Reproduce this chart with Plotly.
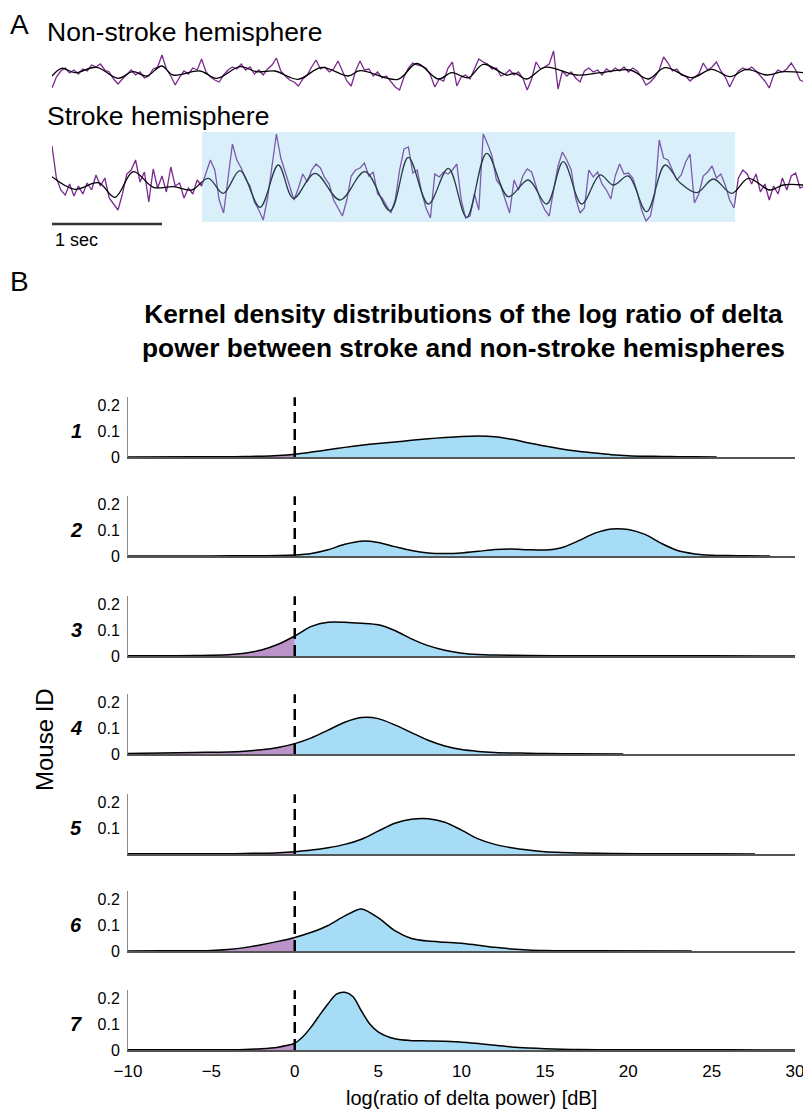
import plotly.graph_objects as go

# ---------------- DATA ----------------
# Panel A: EEG traces, sampled every 0.04 s (amplitude in arbitrary units)
DT = 0.04
NONSTROKE_RAW = [-15,-4,2,5,0,3,-1,4,2,8, 6,9,3,1,-6,-11,-6,-2,3,-2, 1,-5,-3,4,6,18,4,-3,-12,-4,
                 2,-1,5,3,14,1,-4,-7,-9,-2, 3,6,4,9,3,6,-1,3,-2,4, 8,15,2,-3,-7,-9,-13,-6,-2,6,
                 13,4,6,1,4,12,1,-8,-13,2, 12,3,4,-3,1,-5,-3,-9,-14,-17, -4,5,10,8,7,5,-2,-14,-6,-8,
                 5,11,-13,-4,-2,-6,4,14,11,9, 4,5,-3,-1,3,-2,1,-5,-17,-6, 11,4,6,9,22,-16,2,-3,1,-5,
                 -9,2,5,1,3,-2,4,1,5,2, 6,1,5,2,-4,-12,-9,-4,3,16, 10,2,4,-2,-3,-8,-4,-1,10,3,
                 6,11,2,-4,-14,-5,2,5,3,6, 2,-3,-8,-15,-2,3,1,4,10,3, -7,-9]
STROKE_RAW = [34,2,-10,-15,-4,-16,-6,-14,-3,-10, 5,-6,2,-18,-24,-30,-14,6,10,20,
              -2,8,-22,11,-8,4,-12,13,-6,-3, -18,-8,-14,0,-6,8,20,10,-20,-33,
              2,36,20,12,1,-6,-22,-30,-40,-18, 14,46,22,8,-6,-20,-8,6,-2,10,
              16,12,2,-4,-20,-28,-36,-20,4,10, 12,17,4,8,-14,-18,-26,-33,-20,10,
              31,33,7,10,-12,-28,-38,6,3,8, 6,10,16,-20,-38,-36,-14,-30,46,36,
              24,0,-6,-20,-33,0,-10,4,11,8, -6,-20,-30,-36,-10,14,28,20,10,-18,
              -33,-28,10,3,8,-4,-10,-19,4,16, 6,7,2,-12,-30,-41,-36,-14,40,22,
              20,10,0,5,18,26,-23,-14,4,8, 14,2,6,-5,-20,-28,2,10,6,-4,
              6,-12,-4,-20,-6,-14,2,-10,4,7, -8,-6]
# smoothed (delta-band) traces: time [s], value
NS_SMOOTH_T = [0.0,0.088,0.209,0.406,0.600,0.736,0.861,0.997,1.100,1.345,1.497,1.709,1.861,2.027,2.236,
               2.452,2.691,2.800,3.145,3.315,3.512,3.634,3.785,3.921,4.134,4.209,4.315,4.482,4.770,4.982,
               5.255,5.421,5.573,5.815,5.997,6.164,6.315,6.497,6.645,6.827]
NS_SMOOTH_V = [-3,4.7,0.3,5.7,-5.3,1.3,-3,7,-2,2,-5.3,6.3,1.3,2,-6.3,
               5.7,-3,2.3,-6.3,9.5,-6,0.3,-4.7,8.7,-2,-0.3,-6,5.7,-2,0.3,
               3,-6,5.3,-4.7,3.7,-3.7,3.7,-2,1.3,0.3]
ST_SMOOTH_T = [0.0,0.209,0.421,0.573,0.739,0.921,1.103,1.270,1.421,1.557,1.709,1.891,2.057,2.194,2.391,
               2.618,2.845,3.073,3.239,3.421,3.603,3.770,3.952,4.148,4.330,4.497,4.648,4.815,4.982,5.103,
               5.239,5.406,5.573,5.709,5.861,6.012,6.179,6.330,6.527,6.648,6.830]
ST_SMOOTH_V = [3.3,-9.3,-2.7,-17.3,8.3,-7.3,-6.7,-10,1.7,-13.3,9.3,-27.3,15,-18.3,6.7,
               -20,8.3,-30.7,22.7,-24,11.7,-37.3,26.7,-16.7,0,-24,18.3,-24,5,-5,
               4,-31.7,15,-2.7,-12.7,1,-13.3,1.7,-10,-5,-5]
HIGHLIGHT_T = [1.364, 6.21]      # shaded epoch [s]
HIGHLIGHT_V = [-42, 48]
SCALE_T = [0, 1]                 # 1 sec scale bar

# Panel B: kernel density estimates per mouse
ROW1_X = [-10,-6,-4,-3,-2,-1,0,1,2,3,4,5,6,7,8,9,10,11,12,13,14,15,16,17,18,19,20,21,22,23,24,25.3]
ROW1_Y = [0,0.0005,0.001,0.002,0.003,0.006,0.011,0.019,0.028,0.037,0.045,0.052,0.058,0.064,0.070,0.075,
          0.079,0.081,0.078,0.068,0.055,0.042,0.031,0.022,0.015,0.009,0.005,0.003,0.002,0.001,0.0005,0]
ROW2_X = [-10,-5,-2,-1,0,1,2,3,4,5,6,7,8,9,10,11,12,13,14,15,16,17,18,19,20,21,22,23,24,25,26,27,28.5]
ROW2_Y = [0,0.0003,0.001,0.002,0.004,0.010,0.024,0.045,0.057,0.052,0.036,0.021,0.012,0.010,0.012,0.018,
          0.025,0.027,0.024,0.023,0.032,0.058,0.088,0.104,0.102,0.083,0.048,0.020,0.008,0.003,0.0015,0.0005,0]
ROW3_X = [-10,-8,-6,-5,-4,-3,-2,-1,0,1,2,3,4,5,6,7,8,9,10,11,12,14,17,20,25,30]
ROW3_Y = [0.001,0.001,0.002,0.003,0.005,0.011,0.023,0.045,0.077,0.114,0.130,0.130,0.126,0.120,0.098,
          0.066,0.040,0.022,0.011,0.006,0.004,0.002,0.001,0.0008,0.0005,0.0003]
ROW4_X = [-10,-8,-6,-4,-3,-2,-1,0,1,2,3,4,5,6,7,8,9,10,11,12,13,14,15,17,19.7]
ROW4_Y = [0.002,0.004,0.006,0.008,0.011,0.016,0.025,0.040,0.062,0.092,0.122,0.140,0.136,0.112,0.082,
          0.053,0.031,0.017,0.010,0.006,0.004,0.003,0.002,0.001,0]
ROW5_X = [-10,-6,-4,-3,-2,-1,0,1,2,3,4,5,6,7,8,9,10,11,12,13,14,15,16,17,19,22,25,27.6]
ROW5_Y = [0.0005,0.001,0.001,0.002,0.003,0.005,0.009,0.015,0.024,0.037,0.057,0.088,0.118,0.134,0.136,
          0.122,0.092,0.058,0.037,0.024,0.015,0.009,0.006,0.004,0.002,0.001,0.0005,0]
ROW6_X = [-10,-8,-6,-5,-4,-3,-2,-1,0,1,2,3,4,5,6,7,8,9,10,11,12,13,14,15,16,18,23.8]
ROW6_Y = [0,0.0005,0.001,0.002,0.006,0.013,0.024,0.037,0.052,0.072,0.098,0.135,0.162,0.128,0.078,0.048,
          0.038,0.034,0.030,0.022,0.014,0.008,0.004,0.002,0.001,0.0005,0]
ROW7_X = [-10,-6,-4,-3,-2,-1,-0.5,0,0.5,1,1.5,2,2.5,3,3.5,4,4.5,5,6,7,8,9,10,11,12,13,14,15,16,17,19,22,26,30]
ROW7_Y = [0.0005,0.0005,0.001,0.002,0.005,0.011,0.017,0.026,0.052,0.090,0.135,0.178,0.215,0.222,0.205,
          0.150,0.100,0.070,0.043,0.036,0.035,0.034,0.030,0.025,0.018,0.012,0.008,0.005,0.003,0.002,
          0.001,0.0007,0.0005,0.0003]
MOUSE_IDS = ["1", "2", "3", "4", "5", "6", "7"]
X_TICKS = [-10, -5, 0, 5, 10, 15, 20, 25, 30]
Y_TICKS = [0, 0.1, 0.2]
Y_TICKTEXT = ["0", "0.1", "0.2"]

# ---------------- STYLE / LAYOUT ----------------
OFF = 8                       # page body margin of the HTML output
W, H = 811 - OFF, 1118 - OFF
NARROW = "Liberation Sans Narrow, Arial Narrow, Liberation Sans, Arial, sans-serif"
SANS = "Liberation Sans, Arial, Helvetica, sans-serif"
PURPLE = "rgb(122,42,142)"
FILL_NEG = "rgb(186,148,200)"
FILL_POS = "rgb(166,220,246)"


def px(p):
    return (p - OFF) / W


def py(p):
    return 1 - (p - OFF) / H


fig = go.Figure()

# ---- Panel A ----
ns_t = [i * DT for i in range(len(NONSTROKE_RAW))]
st_t = [i * DT for i in range(len(STROKE_RAW))]
fig.add_trace(go.Scatter(x=ns_t, y=NONSTROKE_RAW, mode="lines", line=dict(color=PURPLE, width=1.3),
                         xaxis="x", yaxis="y", hoverinfo="skip"))
fig.add_trace(go.Scatter(x=NS_SMOOTH_T, y=NS_SMOOTH_V, mode="lines",
                         line=dict(color="black", width=1.3, shape="spline", smoothing=1.0),
                         xaxis="x", yaxis="y", hoverinfo="skip"))
fig.add_trace(go.Scatter(x=st_t, y=STROKE_RAW, mode="lines", line=dict(color=PURPLE, width=1.3),
                         xaxis="x2", yaxis="y2", hoverinfo="skip"))
fig.add_trace(go.Scatter(x=ST_SMOOTH_T, y=ST_SMOOTH_V, mode="lines",
                         line=dict(color="black", width=1.3, shape="spline", smoothing=1.0),
                         xaxis="x2", yaxis="y2", hoverinfo="skip"))

layout = dict(
    template="none",
    width=W, height=H, autosize=False, margin=dict(l=0, r=0, t=0, b=0, pad=0),
    font=dict(family=SANS, color="black"),
    paper_bgcolor="white", plot_bgcolor="rgba(0,0,0,0)", showlegend=False,
    xaxis=dict(domain=[px(52), px(803)], range=[0, 6.827], visible=False, anchor="y", automargin=False),
    yaxis=dict(domain=[py(95), py(50)], range=[-22, 23], visible=False, anchor="x", automargin=False),
    xaxis2=dict(domain=[px(52), px(803)], range=[0, 6.827], visible=False, anchor="y2", automargin=False),
    yaxis2=dict(domain=[py(230), py(128)], range=[-50, 52], visible=False, anchor="x2", automargin=False),
)

shapes = [
    dict(type="rect", xref="x2", yref="y2", x0=HIGHLIGHT_T[0], x1=HIGHLIGHT_T[1],
         y0=HIGHLIGHT_V[0], y1=HIGHLIGHT_V[1], fillcolor="rgb(128,205,238)", opacity=0.3,
         line=dict(width=0), layer="above"),
    dict(type="line", xref="x2", yref="y2", x0=SCALE_T[0], x1=SCALE_T[1], y0=-44, y1=-44,
         line=dict(color="#333333", width=2.5)),
]

annotations = [
    dict(text="A", x=px(8), y=py(25), xref="paper", yref="paper", xanchor="left", yanchor="middle",
         showarrow=False, font=dict(family=SANS, size=28, color="black")),
    dict(text="Non-stroke hemisphere", x=px(45), y=py(32), xref="paper", yref="paper", xanchor="left",
         yanchor="middle", showarrow=False, font=dict(family=SANS, size=26.5, color="black")),
    dict(text="Stroke hemisphere", x=px(45), y=py(116), xref="paper", yref="paper", xanchor="left",
         yanchor="middle", showarrow=False, font=dict(family=SANS, size=26.5, color="black")),
    dict(text="1 sec", x=px(53), y=py(240), xref="paper", yref="paper", xanchor="left",
         yanchor="middle", showarrow=False, font=dict(family=SANS, size=18, color="black")),
    dict(text="B", x=px(8), y=py(281), xref="paper", yref="paper", xanchor="left", yanchor="middle",
         showarrow=False, font=dict(family=SANS, size=28, color="black")),
    dict(text="<b>Kernel density distributions of the log ratio of delta<br>power between stroke and non-stroke hemispheres</b>",
         x=px(463), y=py(331), xref="paper", yref="paper", xanchor="center", yanchor="middle",
         showarrow=False, align="center", font=dict(family=SANS, size=26.3, color="black")),
    dict(text="Mouse ID", x=px(44), y=py(740), xref="paper", yref="paper", xanchor="center",
         yanchor="middle", textangle=-90, showarrow=False, font=dict(family=SANS, size=24, color="black")),
    dict(text="log(ratio of delta power) [dB]", x=px(471), y=py(1098), xref="paper", yref="paper",
         xanchor="center", yanchor="middle", showarrow=False,
         font=dict(family=NARROW, size=20, color="black")),
]

# ---- Panel B ----
ROWS = [(ROW1_X, ROW1_Y), (ROW2_X, ROW2_Y), (ROW3_X, ROW3_Y), (ROW4_X, ROW4_Y),
        (ROW5_X, ROW5_Y), (ROW6_X, ROW6_Y), (ROW7_X, ROW7_Y)]
BASE = [457, 556, 656, 754, 854, 951, 1050]
YMAX = 0.23
PX_PER_UNIT = 260

for k, (xs, ys) in enumerate(ROWS):
    n = k + 3
    xa, ya = f"x{n}", f"y{n}"
    lx = [x for x in xs if x <= 0]
    ly = [y for x, y in zip(xs, ys) if x <= 0]
    rx = [x for x in xs if x >= 0]
    ry = [y for x, y in zip(xs, ys) if x >= 0]
    fig.add_trace(go.Scatter(x=lx, y=ly, mode="lines", line=dict(width=0, shape="spline", smoothing=0.8),
                             fill="tozeroy", fillcolor=FILL_NEG, xaxis=xa, yaxis=ya, hoverinfo="skip"))
    fig.add_trace(go.Scatter(x=rx, y=ry, mode="lines", line=dict(width=0, shape="spline", smoothing=0.8),
                             fill="tozeroy", fillcolor=FILL_POS, xaxis=xa, yaxis=ya, hoverinfo="skip"))
    fig.add_trace(go.Scatter(x=xs, y=ys, mode="lines",
                             line=dict(color="black", width=1.5, shape="spline", smoothing=0.8),
                             xaxis=xa, yaxis=ya, hoverinfo="skip"))
    b = BASE[k]
    top = b - YMAX * PX_PER_UNIT
    last = (k == len(ROWS) - 1)
    layout[f"xaxis{n}"] = dict(domain=[px(128), px(795)], range=[-10, 30], anchor=ya, automargin=False,
                               showline=True, linecolor="#555555", linewidth=1.6, showgrid=False,
                               zeroline=False, ticks="", showticklabels=last, tickvals=X_TICKS,
                               ticklabelstandoff=5, tickfont=dict(family=NARROW, size=17, color="black"))
    if k == 4:
        tv, tt = Y_TICKS[1:], Y_TICKTEXT[1:]
    else:
        tv, tt = Y_TICKS, Y_TICKTEXT
    layout[f"yaxis{n}"] = dict(domain=[py(b), py(top)], range=[0, YMAX], anchor=xa, automargin=False,
                               showline=True, linecolor="#8a8a8a", linewidth=1, showgrid=False,
                               zeroline=False, ticks="", tickvals=tv, ticktext=tt,
                               ticklabelstandoff=4, tickfont=dict(family=NARROW, size=16, color="black"))
    shapes.append(dict(type="line", xref=xa, yref=f"{ya} domain", x0=0, x1=0, y0=0, y1=1,
                       line=dict(color="black", width=2.5, dash="11px,6px")))
    annotations.append(dict(text=f"<b><i>{MOUSE_IDS[k]}</i></b>", x=px(76), y=py(b - 26), xref="paper",
                            yref="paper", xanchor="center", yanchor="middle", showarrow=False,
                            font=dict(family=SANS, size=20, color="black")))

layout["shapes"] = shapes
layout["annotations"] = annotations
fig.update_layout(**layout)
fig.write_html("out.html")
